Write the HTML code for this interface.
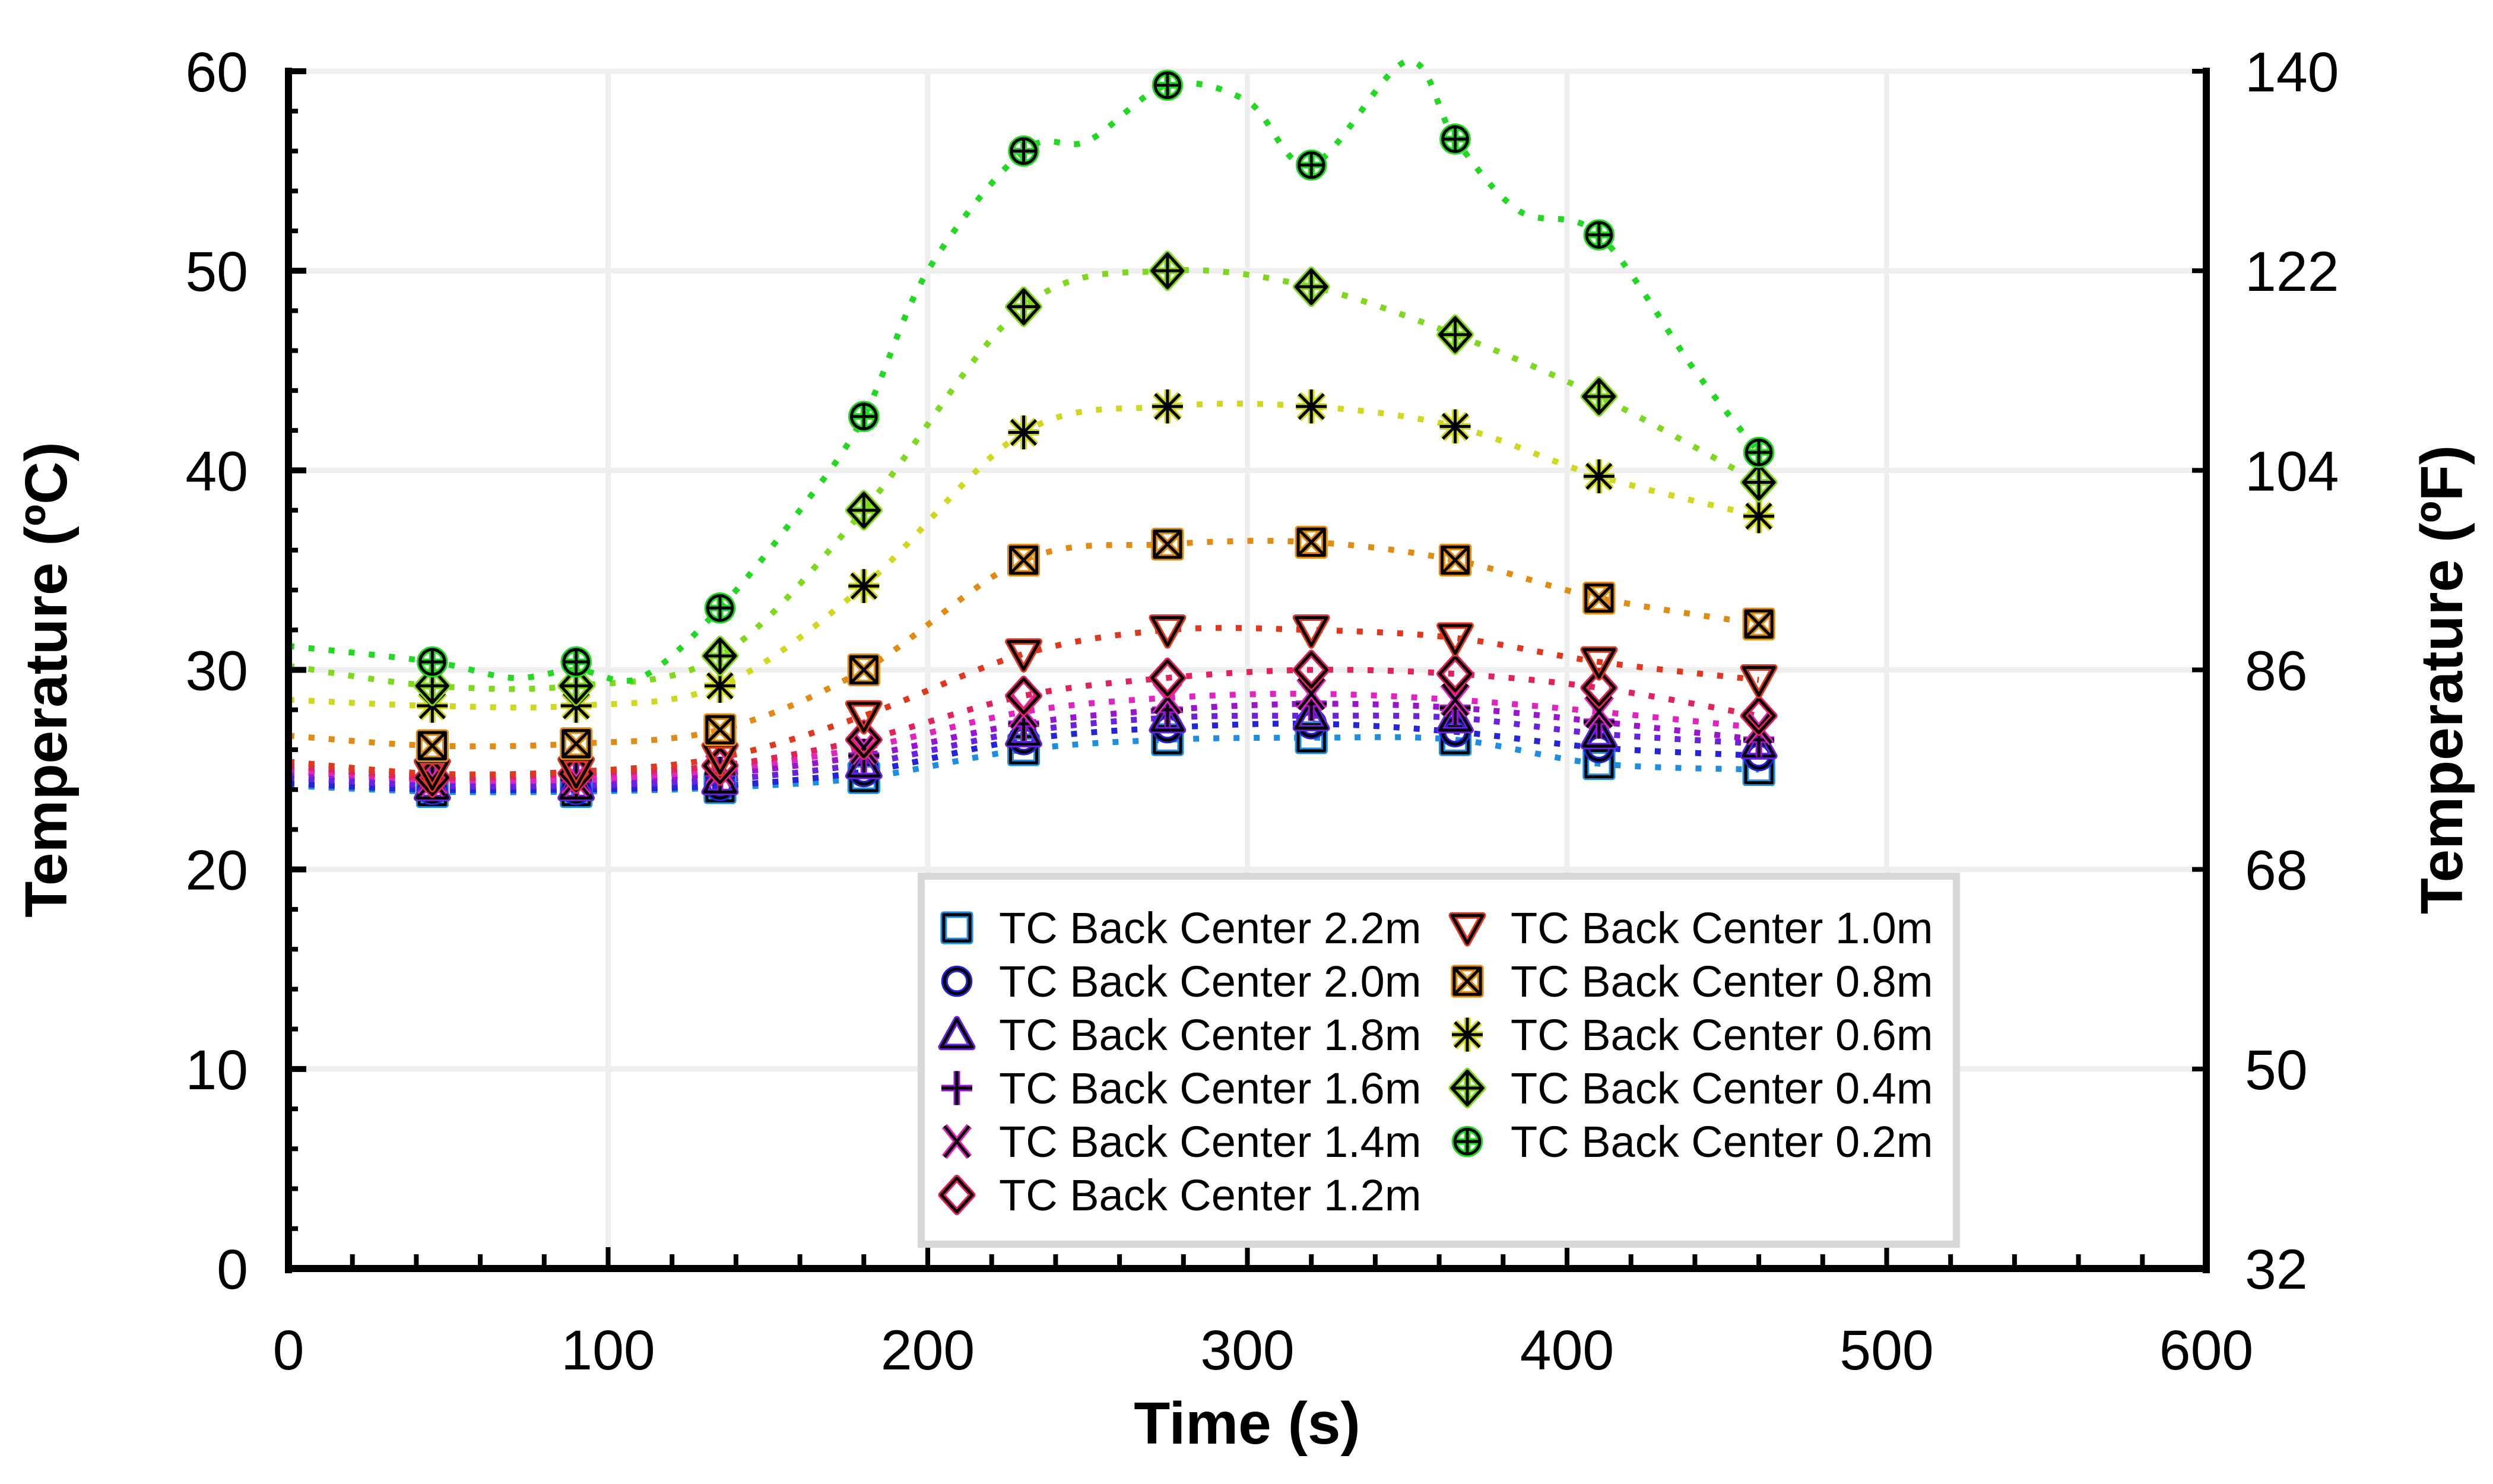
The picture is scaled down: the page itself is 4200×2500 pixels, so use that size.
<!DOCTYPE html>
<html><head><meta charset="utf-8"><style>
html,body{margin:0;padding:0;background:#fff}
svg{display:block;font-family:"Liberation Sans",Arial,sans-serif}
</style></head><body>
<svg id="chart" width="4200" height="2500" viewBox="0 0 4200 2500" xmlns="http://www.w3.org/2000/svg">
<g id="grid"></g>
<g id="lines"></g>
<g id="marks"></g>
<g id="axes"></g>
<g id="legend"></g>
<text x="2101" y="2432" font-size="100" font-weight="bold" text-anchor="middle">Time (s)</text>
<text transform="translate(112,1145) rotate(-90)" font-size="100" font-weight="bold" text-anchor="middle">Temperature (ºC)</text>
<text transform="translate(4148,1145) rotate(-90)" font-size="100" font-weight="bold" text-anchor="middle">Temperature (ºF)</text>
</svg>
<script>
const markerTimes=[45,90,135,180,230,275,320,365,410,460];
const seriesNames=["TC Back Center 2.2m","TC Back Center 2.0m","TC Back Center 1.8m","TC Back Center 1.6m","TC Back Center 1.4m","TC Back Center 1.2m","TC Back Center 1.0m","TC Back Center 0.8m","TC Back Center 0.6m","TC Back Center 0.4m","TC Back Center 0.2m"];
const v22=[23.9,23.9,24.1,24.6,26.0,26.5,26.6,26.5,25.3,25.0];
const v20=[24.0,24.0,24.2,24.9,26.5,27.1,27.3,26.9,26.1,25.7];
const v18=[24.2,24.2,24.5,25.3,26.9,27.6,27.7,27.6,26.8,26.3];
const v16=[24.5,24.5,24.8,25.7,27.3,28.0,28.3,28.1,27.4,26.5];
const v14=[24.5,24.5,25.0,26.1,27.9,28.6,28.8,28.5,27.9,27.1];
const v12=[24.6,24.8,25.2,26.5,28.7,29.6,30.0,29.8,29.1,27.7];
const v10=[24.8,24.9,25.6,27.7,30.8,32.0,32.0,31.6,30.4,29.5];
const v08=[26.2,26.3,27.0,30.0,35.5,36.3,36.4,35.5,33.6,32.3];
const v06=[28.2,28.2,29.2,34.2,41.9,43.2,43.2,42.2,39.7,37.7];
const v04=[29.2,29.2,30.7,38.0,48.2,50.0,49.2,46.8,43.7,39.4];
const v02=[30.4,30.4,33.1,42.7,56.0,59.3,55.3,56.6,51.8,40.9];
const startValues=[24.2,24.3,24.6,24.9,25.0,25.2,25.4,26.7,28.5,30.2,31.2];
const line02Times=[0,45,70,90,110,135,160,180,200,230,250,275,300,320,350,365,385,410,440,460];
const line02Values=[31.2,30.4,29.6,30.0,29.6,33.1,38.0,42.7,50.0,56.0,56.5,59.3,58.5,55.3,60.5,56.6,53.0,51.8,45.0,40.9];
const xTicks=[0,100,200,300,400,500,600];
const yTicks=[0,10,20,30,40,50,60];
const fTickLabels=["32","50","68","86","104","122","140"];

const allVals=[v22,v20,v18,v16,v14,v12,v10,v08,v06,v04,v02];
const colors=["#1e8ee0","#2424d8","#6a22e0","#9a14d0","#e024c0","#e0245a","#e0381e","#e08c14","#cfd81e","#7ed81e","#22d822"];
const shapes=["square","circle","triangle","plus","x","diamond","tridown","sqx","star","diamondplus","circleplus"];
const X0=486,X1=3717,Y0=2137,Y1=120;
const xs=t=>X0+(t/600)*(X1-X0);
const ys=v=>Y0-(v/60)*(Y0-Y1);
const NS="http://www.w3.org/2000/svg";
function mk(tag,attrs,parent){const e=document.createElementNS(NS,tag);for(const k in attrs)e.setAttribute(k,attrs[k]);parent.appendChild(e);return e;}
const grid=document.getElementById('grid'),axes=document.getElementById('axes'),lines=document.getElementById('lines'),marks=document.getElementById('marks'),legend=document.getElementById('legend');

xTicks.forEach(t=>{if(t>0&&t<600){const g=mk('line',{x1:xs(t),x2:xs(t),y1:Y1,y2:Y0,stroke:'#eeeeee','stroke-width':9},grid);

}});
yTicks.forEach(v=>{if(v>0){const g=mk('line',{x1:X0,x2:X1,y1:ys(v),y2:ys(v),stroke:'#eeeeee','stroke-width':9},grid);

}});

let a=mk('line',{x1:X0,x2:X0,y1:Y1-6,y2:Y0+8,stroke:'#000','stroke-width':12},axes);


a=mk('line',{x1:X1,x2:X1,y1:Y1-6,y2:Y0+8,stroke:'#000','stroke-width':12},axes);


a=mk('line',{x1:X0-6,x2:X1+6,y1:Y0,y2:Y0,stroke:'#000','stroke-width':12},axes);


for(let t=0;t<=600;t+=20){const major=t%100===0;const l=mk('line',{x1:xs(t),x2:xs(t),y1:Y0,y2:Y0-(major?36:24),stroke:'#000','stroke-width':8},axes);

}
for(let v=0;v<=60;v+=2){const major=v%10===0;const l=mk('line',{x1:X0,x2:X0+(major?30:16),y1:ys(v),y2:ys(v),stroke:'#000','stroke-width':major?10:8},axes);

}
yTicks.forEach(v=>{const l=mk('line',{x1:X1,x2:X1-24,y1:ys(v),y2:ys(v),stroke:'#000','stroke-width':8},axes);

});
xTicks.forEach(t=>{const tx=mk('text',{x:xs(t),y:2307,'font-size':95,'text-anchor':'middle'},axes);tx.textContent=t;

});
yTicks.forEach(v=>{const tx=mk('text',{x:418,y:ys(v)+34,'font-size':95,'text-anchor':'end'},axes);tx.textContent=v;

});
yTicks.forEach((v,i)=>{const tx=mk('text',{x:3782,y:ys(v)+34,'font-size':95,'text-anchor':'start'},axes);tx.textContent=fTickLabels[i];

});

function smooth(pts){let d='M'+pts[0][0]+','+pts[0][1];for(let i=0;i<pts.length-1;i++){const p0=pts[i-1]||pts[i],p1=pts[i],p2=pts[i+1],p3=pts[i+2]||p2;
d+=' C'+(p1[0]+(p2[0]-p0[0])/6)+','+(p1[1]+(p2[1]-p0[1])/6)+' '+(p2[0]-(p3[0]-p1[0])/6)+','+(p2[1]-(p3[1]-p1[1])/6)+' '+p2[0]+','+p2[1];}return d;}

allVals.forEach((vals,i)=>{let pts;
if(i===10){pts=line02Times.map((t,j)=>[xs(t),ys(line02Values[j])]);}
else{pts=[[xs(0),ys(startValues[i])]].concat(markerTimes.map((t,j)=>[xs(t),ys(vals[j])]));}
const p=mk('path',{d:smooth(pts),fill:'none',stroke:colors[i],'stroke-width':10,'stroke-dasharray':'10 24'},lines);

});

function drawMarker(shape,cx,cy,s,col,parent){const g=mk('g',{},parent);
[[col,11],['#000',5]].forEach(([c,w])=>{const st={fill:'none',stroke:c,'stroke-width':w,'stroke-linejoin':'round'};
const r=s/2;
if(shape==='square'||shape==='sqx'){mk('rect',Object.assign({x:cx-r*0.85,y:cy-r*0.85,width:r*1.7,height:r*1.7},st),g);
if(shape==='sqx'){mk('path',Object.assign({d:`M${cx-r*0.85},${cy-r*0.85}L${cx+r*0.85},${cy+r*0.85}M${cx+r*0.85},${cy-r*0.85}L${cx-r*0.85},${cy+r*0.85}`},st),g);}}
else if(shape==='circle'){mk('circle',Object.assign({cx:cx,cy:cy,r:r*0.8},st),g);}
else if(shape==='circleplus'){mk('circle',Object.assign({cx:cx,cy:cy,r:r*0.8},st),g);mk('path',Object.assign({d:`M${cx-r*0.8},${cy}H${cx+r*0.8}M${cx},${cy-r*0.8}V${cy+r*0.8}`},st),g);}
else if(shape==='triangle'){mk('path',Object.assign({d:`M${cx},${cy-r}L${cx+r},${cy+r*0.8}L${cx-r},${cy+r*0.8}Z`},st),g);}
else if(shape==='tridown'){mk('path',Object.assign({d:`M${cx-r},${cy-r*0.8}L${cx+r},${cy-r*0.8}L${cx},${cy+r}Z`},st),g);}
else if(shape==='plus'){mk('path',Object.assign({d:`M${cx-r},${cy}H${cx+r}M${cx},${cy-r*1.1}V${cy+r*1.1}`},st),g);}
else if(shape==='x'){mk('path',Object.assign({d:`M${cx-r*0.8},${cy-r}L${cx+r*0.8},${cy+r}M${cx+r*0.8},${cy-r}L${cx-r*0.8},${cy+r}`},st),g);}
else if(shape==='diamond'||shape==='diamondplus'){mk('path',Object.assign({d:`M${cx},${cy-r*1.1}L${cx+r},${cy}L${cx},${cy+r*1.1}L${cx-r},${cy}Z`},st),g);
if(shape==='diamondplus')mk('path',Object.assign({d:`M${cx-r},${cy}H${cx+r}M${cx},${cy-r*1.1}V${cy+r*1.1}`},st),g);}
else if(shape==='star'){mk('path',Object.assign({d:`M${cx-r},${cy}H${cx+r}M${cx},${cy-r*1.1}V${cy+r*1.1}M${cx-r*0.8},${cy-r*0.8}L${cx+r*0.8},${cy+r*0.8}M${cx+r*0.8},${cy-r*0.8}L${cx-r*0.8},${cy+r*0.8}`},st),g);}
});return g;}

allVals.forEach((vals,i)=>{vals.forEach((v,j)=>{const m=drawMarker(shapes[i],xs(markerTimes[j]),ys(v),52,colors[i],marks);

});});

const lb=mk('rect',{x:1552,y:1476,width:1744,height:620,fill:'#fff',stroke:'#d8d8d8','stroke-width':12},legend);


seriesNames.forEach((nm,i)=>{const col=i<6?0:1,row=i<6?i:i-6;
const mx=col?2472:1612,tx=col?2545:1683,cy=1563+row*90;
const g=mk('g',{},legend);


drawMarker(shapes[i],mx,cy,52,colors[i],g);
const t=mk('text',{x:tx,y:cy+26,'font-size':74},g);t.textContent=nm;});
</script>
</body></html>
